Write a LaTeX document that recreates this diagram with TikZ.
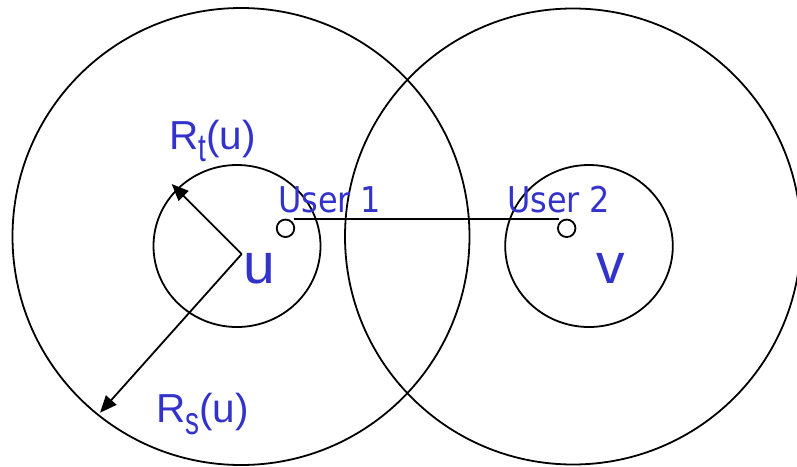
\documentclass[tikz,border=0pt]{standalone}
\usepackage{fontspec}
\setmainfont{Liberation Sans}
\newfontfamily\userfont{DejaVu Sans}[FakeStretch=0.9]
\usetikzlibrary{arrows.meta,calc}
\definecolor{lblblue}{RGB}{51,51,204}
\newcommand{\subsc}[1]{\raisebox{-12pt}{\scalebox{1}[1.4]{\fontsize{28}{28}\selectfont #1}}}
\begin{document}
\begin{tikzpicture}[x=1pt,y=-1pt,
  ring/.style={draw=black,line width=1.8pt},
  radarrow/.style={draw=black,line width=1.8pt,-{Triangle[length=17pt,width=14pt]}},
  user/.style={circle,draw=black,line width=1.8pt,minimum size=17.5pt,inner sep=0pt},
  lbl/.style={text=lblblue,anchor=base west,inner sep=0pt,outer sep=0pt},
  rlbl/.style={lbl,font=\fontsize{40.5}{46}\selectfont},
  ulbl/.style={lbl,font=\userfont\fontsize{35.5}{40}\selectfont},
  clbl/.style={lbl,font=\fontsize{57}{60}\selectfont}]
\useasboundingbox (0,0) rectangle (797,466);
% centres
\coordinate (cu) at (241,236.5);
\coordinate (cv) at (573,236.5);
\coordinate (su) at (237,246);
\coordinate (sv) at (589,246);
\coordinate (o) at (241.7,254);
% big circles
\draw[ring] (cu) circle[radius=228.5pt];
\draw[ring] (cv) circle[radius=228pt];
% small circles
\draw[ring] (su) ellipse[x radius=83.5pt,y radius=81pt];
\draw[ring] (sv) ellipse[x radius=83.8pt,y radius=81pt];
% users
\node[user] (u1) at (285.5,228.3) {};
\node[user] (u2) at (566.7,228.3) {};
\draw[line width=1.8pt] ($(u1.north)+(8,0)$) -- ($(u2.north)+(-8,0)$);
% radius arrows
\coordinate (rt) at (171.7,184);
\coordinate (rs) at (100,412.7);
\draw[radarrow] (o) -- (rt);
\draw[radarrow] (o) -- (rs);
% labels
\node[rlbl] (lrt) at (169,149) {R\subsc{t}(u)};
\node[rlbl] (lrs) at (156,422.5) {R\subsc{s}(u)};
\node[ulbl] (lu1) at (278,212) {User 1};
\node[ulbl] (lu2) at (507,212) {User 2};
\node[clbl] (lu) at (243,283) {u};
\node[clbl] (lv) at (596.5,283) {v};
\end{tikzpicture}
\end{document}
